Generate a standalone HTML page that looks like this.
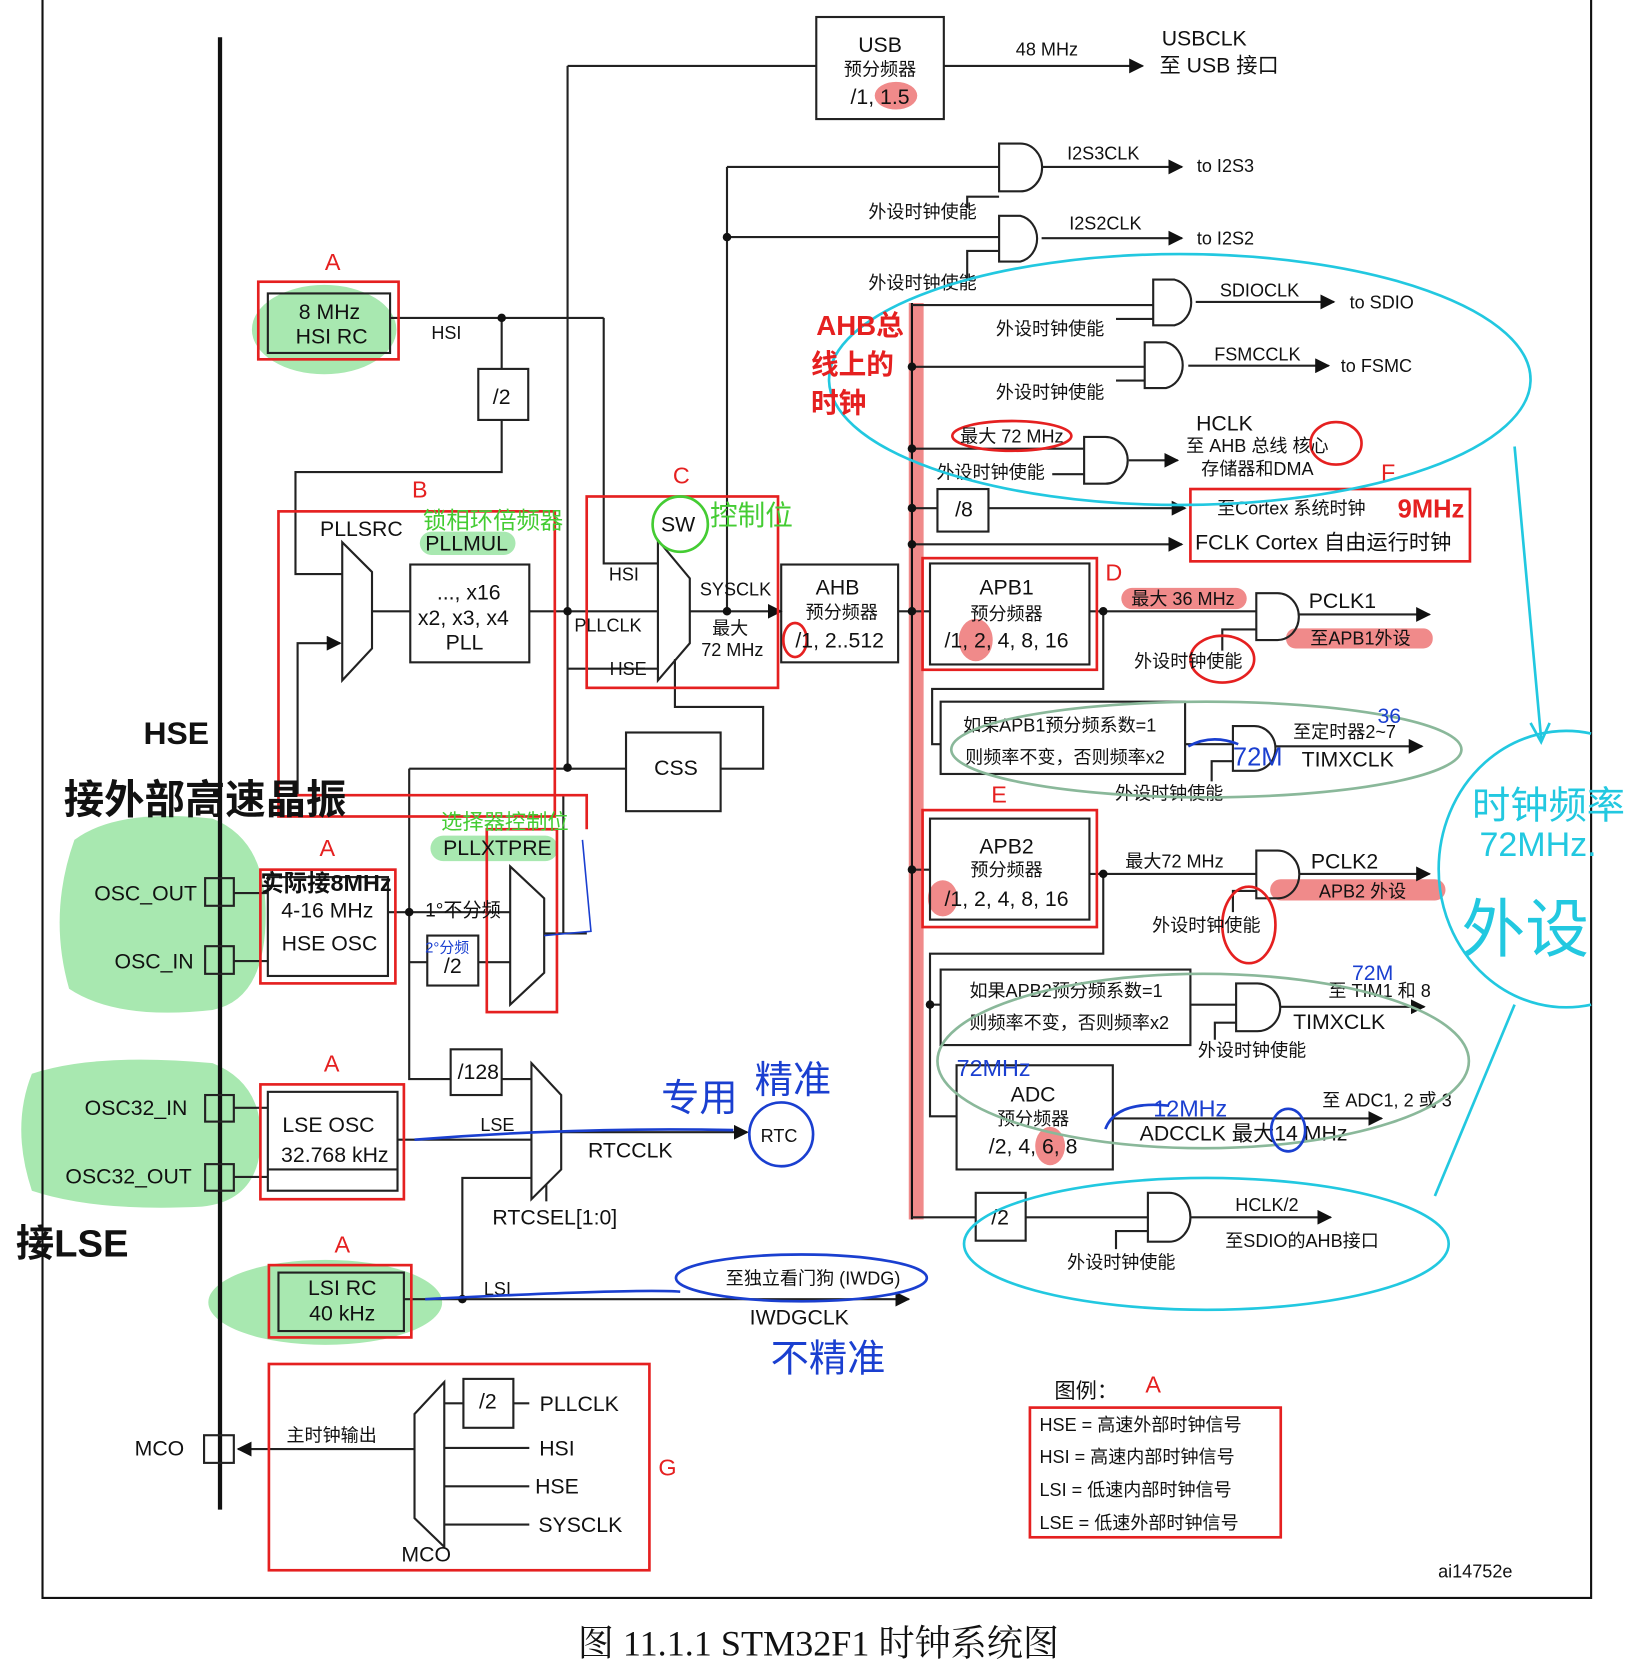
<!DOCTYPE html>
<html><head><meta charset="utf-8"><style>
html,body{margin:0;padding:0;background:#fff;}
svg{display:block;}
text{font-family:"Liberation Sans","Noto Sans CJK SC",sans-serif;}
.s{font-size:17px;}
.m{font-size:20px;}
.r text{font-size:22px;}
</style></head><body>
<svg width="1640" height="1667" viewBox="0 0 1543 1568" preserveAspectRatio="none" xmlns="http://www.w3.org/2000/svg" fill="#111">
<defs>
<marker id="ar" viewBox="0 0 10 10" refX="9" refY="5" markerWidth="7" markerHeight="7" orient="auto"><path d="M0,0 L10,5 L0,10 z" fill="#111"/></marker>
</defs>
<g fill="#a8e8b0">
<ellipse cx="305" cy="310" rx="68" ry="42"/>
<path d="M70,790 Q110,760 200,770 Q250,790 250,860 Q250,940 200,950 Q110,960 65,930 Q45,860 70,790 Z"/>
<path d="M30,1010 Q90,990 200,1000 Q250,1020 245,1080 Q240,1130 190,1135 Q90,1140 30,1120 Q10,1060 30,1010 Z"/>
<ellipse cx="306" cy="1225" rx="110" ry="40"/>
<rect x="395" y="500" width="90" height="22" rx="11"/>
<rect x="405" y="786" width="120" height="24" rx="12"/>
</g>
<g fill="#f08a8a">
<rect x="1055" y="553" width="118" height="20" rx="10"/>
<rect x="1210" y="591" width="138" height="19" rx="9"/>
<rect x="1195" y="827" width="165" height="20" rx="10"/>
<ellipse cx="843" cy="90" rx="20" ry="13"/>
<ellipse cx="918" cy="602" rx="16" ry="20"/>
<ellipse cx="887" cy="845" rx="14" ry="17"/>
<ellipse cx="988" cy="1078" rx="14" ry="18"/>
</g>
<g stroke="#111" fill="none" stroke-width="2">
<path d="M40,0 V1503 H1497 V0"/>
</g>
<line x1="207" y1="35" x2="207" y2="1420" stroke="#111" stroke-width="4"/>
<rect x="855" y="285" width="14" height="862" fill="#f08a8a"/>
<line x1="858" y1="285" x2="858" y2="1147" stroke="#111" stroke-width="2"/>
<g stroke="#222" stroke-width="2" fill="none">
<rect x="768" y="16" width="120" height="96" fill="none"/>
<path d="M534,62 H768"/><path d="M888,62 H1075" marker-end="url(#ar)"/>
<path d="M534,62 V723"/>
<path d="M684,157 V575"/><path d="M684,157 H940"/><path d="M684,223 H940"/>
<path d="M940,135 H960 A20,22 0 0 1 960,180 H940 Z"/>
<path d="M980,157 H1112" marker-end="url(#ar)"/>
<path d="M910,196 V185 H940"/><path d="M940,203 H960 A20,22 0 0 1 960,246 H940 Z"/>
<path d="M980,224 H1112" marker-end="url(#ar)"/><path d="M910,262 V236 H940"/>
<path d="M1085,263 H1105 A20,22 0 0 1 1105,306 H1085 Z"/>
<path d="M1125,284 H1255" marker-end="url(#ar)"/><path d="M858,287 H1085"/><path d="M1050,300 H1085"/>
<path d="M1077,322 H1097 A20,22 0 0 1 1097,365 H1077 Z"/>
<path d="M1118,344 H1250" marker-end="url(#ar)"/><path d="M858,345 H1077"/><path d="M1050,358 H1077"/>
<path d="M1020,411 H1040 A21,22 0 0 1 1040,455 H1020 Z"/>
<path d="M1062,433 H1108" marker-end="url(#ar)"/><path d="M858,422 H1020"/><path d="M990,446 H1020"/>
<rect x="882" y="460" width="48" height="40"/>
<path d="M858,478 H882"/><path d="M930,478 H1115" marker-end="url(#ar)"/>
<path d="M858,512 H1112" marker-end="url(#ar)"/>
<rect x="735" y="531" width="110" height="92"/>
<path d="M845,575 H858"/>
<path d="M619,508 L649,544 V605 L619,640 Z"/>
<path d="M649,575 H735" marker-end="url(#ar)"/>
<path d="M568,299 V530 H619"/><path d="M498,575 H619"/><path d="M534,629 H619"/>
<path d="M635,620 V665 H718 V723 H678"/>
<rect x="589" y="689" width="89" height="74"/>
<path d="M385,723 H589"/>
<rect x="252" y="276" width="115" height="56"/>
<path d="M367,299 H568"/><path d="M472,299 V347"/>
<rect x="450" y="347" width="47" height="48"/>
<path d="M472,395 V444 H278 V540 H322"/>
<path d="M322,510 L350,538 V610 L322,640 Z"/>
<path d="M350,575 H386"/>
<rect x="386" y="531" width="112" height="92"/>
<path d="M552,878 H530 V748 H280 V605 H320" marker-end="url(#ar)"/>
<rect x="252" y="825" width="113" height="93"/>
<rect x="193" y="826" width="27" height="26"/><rect x="193" y="890" width="27" height="26"/>
<path d="M220,840 H252"/><path d="M220,904 H252"/>
<path d="M365,858 H480"/><path d="M385,723 V1015 H424"/><path d="M385,905 H402"/><path d="M450,905 H480"/>
<rect x="402" y="880" width="48" height="47"/>
<path d="M480,815 L512,845 V915 L480,945 Z"/>
<path d="M512,878 H552"/>
<rect x="193" y="1030" width="27" height="25"/><rect x="193" y="1095" width="27" height="25"/>
<path d="M220,1042 H252"/><path d="M220,1107 H252"/>
<rect x="252" y="1027" width="122" height="93"/>
<path d="M252,1100 H374"/>
<rect x="424" y="987" width="48" height="43"/>
<path d="M472,1015 H500"/>
<path d="M500,1000 L528,1030 V1100 L500,1128 Z"/>
<path d="M374,1072 H500"/>
<path d="M528,1065 H703" marker-end="url(#ar)"/>
<path d="M514,1114 V1130"/>
<rect x="262" y="1197" width="118" height="55"/>
<path d="M380,1222 H855" marker-end="url(#ar)"/>
<path d="M435,1222 V1108 H500"/>
<path d="M390,1330 L418,1300 V1455 L390,1428 Z"/>
<path d="M390,1363 H224" marker-end="url(#ar)"/>
<rect x="192" y="1350" width="28" height="26"/>
<rect x="436" y="1297" width="47" height="46"/>
<path d="M418,1320 H436"/><path d="M483,1320 H498"/>
<path d="M418,1362 H498"/><path d="M418,1398 H498"/><path d="M418,1434 H498"/>
<rect x="875" y="530" width="150" height="95"/>
<path d="M858,575 H875"/>
<path d="M1025,575 H1182"/>
<path d="M1182,558 H1202 A20,22 0 0 1 1202,602 H1182 Z"/>
<path d="M1222,578 H1345" marker-end="url(#ar)"/><path d="M1150,612 V592 H1182"/>
<path d="M1038,575 V648 H877 V700 H885"/>
<rect x="885" y="660" width="230" height="68"/>
<path d="M1115,700 H1160"/>
<path d="M1160,683 H1180 A20,21 0 0 1 1180,725 H1160 Z"/>
<path d="M1200,702 H1338" marker-end="url(#ar)"/><path d="M1140,735 V716 H1160"/>
<rect x="875" y="770" width="150" height="95"/>
<path d="M858,818 H875"/>
<path d="M1025,822 H1182"/>
<path d="M1182,800 H1202 A20,22 0 0 1 1202,845 H1182 Z"/>
<path d="M1222,822 H1345" marker-end="url(#ar)"/><path d="M1160,858 V838 H1182"/>
<path d="M1038,822 V897 H875 V1050 H900"/>
<path d="M875,945 H885"/>
<rect x="885" y="912" width="235" height="71"/>
<path d="M1120,945 H1163"/>
<path d="M1163,925 H1183 A21,22 0 0 1 1183,970 H1163 Z"/>
<path d="M1204,947 H1340" marker-end="url(#ar)"/><path d="M1143,978 V962 H1163"/>
<rect x="900" y="1002" width="147" height="98"/>
<path d="M1047,1052 H1300" marker-end="url(#ar)"/>
<rect x="918" y="1122" width="47" height="45"/>
<path d="M858,1145 H918"/><path d="M965,1145 H1080"/>
<path d="M1080,1122 H1100 A20,23 0 0 1 1100,1168 H1080 Z"/>
<path d="M1120,1145 H1252" marker-end="url(#ar)"/><path d="M1050,1175 V1158 H1080"/>
</g>
<g fill="#111">
<circle cx="472" cy="299" r="4"/><circle cx="534" cy="575" r="4"/><circle cx="534" cy="722" r="4"/>
<circle cx="684" cy="575" r="4"/><circle cx="684" cy="223" r="4"/><circle cx="385" cy="858" r="4"/>
<circle cx="435" cy="1222" r="4"/><circle cx="858" cy="575" r="4"/><circle cx="858" cy="818" r="4"/>
<circle cx="858" cy="422" r="4"/><circle cx="858" cy="478" r="4"/><circle cx="858" cy="512" r="4"/><circle cx="858" cy="345" r="4"/>
<circle cx="1038" cy="575" r="4"/><circle cx="1038" cy="822" r="4"/><circle cx="875" cy="945" r="4"/>
</g>
<g stroke="#e52020" stroke-width="2.5" fill="none">
<rect x="243" y="265" width="132" height="73"/>
<rect x="262" y="481" width="260" height="287"/>
<rect x="552" y="467" width="180" height="180"/>
<rect x="1120" y="460" width="263" height="68"/>
<rect x="868" y="525" width="164" height="105"/>
<rect x="868" y="762" width="164" height="110"/>
<rect x="245" y="818" width="127" height="107"/>
<rect x="458" y="780" width="66" height="172"/>
<path d="M262,748 H552 V780"/>
<rect x="245" y="1020" width="135" height="108"/>
<rect x="253" y="1190" width="134" height="68"/>
<rect x="253" y="1283" width="358" height="194"/>
<rect x="969" y="1324" width="236" height="122"/>
<ellipse cx="748" cy="602" rx="11" ry="16"/>
<ellipse cx="952" cy="410" rx="56" ry="14"/>
<ellipse cx="1257" cy="417" rx="24" ry="20"/>
<ellipse cx="1150" cy="620" rx="30" ry="22"/>
<ellipse cx="1175" cy="870" rx="25" ry="36"/>
</g>
<g text-anchor="middle">
<text x="828" y="49" class="m">USB</text><text x="828" y="71" class="s">预分频器</text><text x="828" y="98" class="m">/1, 1.5</text>
<text x="985" y="52" class="s" font-size="18">48 MHz</text>
<text x="1133" y="43" class="m">USBCLK</text><text x="1147" y="68" class="m" font-size="19">至 USB 接口</text>
<text x="1038" y="150" class="s" font-size="18">I2S3CLK</text><text x="1153" y="162" class="s" font-size="18">to I2S3</text>
<text x="868" y="205" class="s">外设时钟使能</text>
<text x="1040" y="216" class="s" font-size="18">I2S2CLK</text><text x="1153" y="230" class="s" font-size="18">to I2S2</text>
<text x="868" y="272" class="s">外设时钟使能</text>
<text x="1185" y="279" class="s" font-size="19">SDIOCLK</text><text x="1300" y="290" class="s" font-size="19">to SDIO</text>
<text x="988" y="315" class="s">外设时钟使能</text>
<text x="1183" y="339" class="s" font-size="19">FSMCCLK</text><text x="1295" y="350" class="s" font-size="19">to FSMC</text>
<text x="988" y="375" class="s">外设时钟使能</text>
<text x="952" y="416" class="s">最大 72 MHz</text><text x="932" y="450" class="s">外设时钟使能</text>
<text x="1152" y="405" class="m">HCLK</text><text x="1183" y="425" class="s" font-size="18">至 AHB 总线 核心</text><text x="1183" y="447" class="s" font-size="18">存储器和DMA</text>
<text x="907" y="486" class="m">/8</text>
<text x="1215" y="484" class="s" font-size="19">至Cortex 系统时钟</text>
<text x="1245" y="517" class="m">FCLK Cortex 自由运行时钟</text>
<text x="788" y="559" class="m">AHB</text><text x="792" y="582" class="s">预分频器</text><text x="790" y="609" class="m">/1, 2..512</text>
<text x="587" y="546" class="s" font-size="18">HSI</text><text x="572" y="594" class="s" font-size="18">PLLCLK</text><text x="591" y="635" class="s" font-size="18">HSE</text>
<text x="638" y="500" class="m">SW</text>
<text x="692" y="560" class="s" font-size="18">SYSCLK</text><text x="687" y="597" class="s">最大</text><text x="689" y="617" class="s" font-size="18">72 MHz</text>
<text x="441" y="564" class="m">..., x16</text><text x="436" y="588" class="m">x2, x3, x4</text><text x="437" y="611" class="m">PLL</text>
<text x="439" y="518" class="m">PLLMUL</text><text x="340" y="504" class="m">PLLSRC</text>
<text x="636" y="729" class="m">CSS</text>
<text x="310" y="300" class="m">8 MHz</text><text x="312" y="323" class="m">HSI RC</text>
<text x="420" y="319" class="s" font-size="19">HSI</text>
<text x="472" y="380" class="m">/2</text>
<text x="947" y="559" class="m">APB1</text><text x="947" y="583" class="s">预分频器</text><text x="947" y="609" class="m">/1, 2, 4, 8, 16</text>
<text x="1113" y="569" class="s">最大 36 MHz</text>
<text x="1263" y="572" class="m">PCLK1</text><text x="1280" y="606" class="s" font-size="18">至APB1外设</text>
<text x="1118" y="628" class="s">外设时钟使能</text>
<text x="997" y="688" class="s">如果APB1预分频系数=1</text><text x="1002" y="718" class="s">则频率不变，否则频率x2</text>
<text x="1265" y="694" class="s" font-size="18">至定时器2~7</text><text x="1268" y="721" class="m">TIMXCLK</text>
<text x="1100" y="752" class="s">外设时钟使能</text>
<text x="947" y="803" class="m">APB2</text><text x="947" y="824" class="s">预分频器</text><text x="947" y="852" class="m">/1, 2, 4, 8, 16</text>
<text x="1105" y="816" class="s" font-size="17">最大72 MHz</text>
<text x="1265" y="817" class="m">PCLK2</text><text x="1282" y="844" class="s" font-size="18">APB2 外设</text>
<text x="1135" y="876" class="s">外设时钟使能</text>
<text x="1003" y="938" class="s">如果APB2预分频系数=1</text><text x="1006" y="968" class="s">则频率不变，否则频率x2</text>
<text x="1298" y="938" class="s" font-size="18">至 TIM1 和 8</text><text x="1260" y="968" class="m">TIMXCLK</text>
<text x="1178" y="994" class="s">外设时钟使能</text>
<text x="972" y="1036" class="m">ADC</text><text x="972" y="1058" class="s">预分频器</text><text x="972" y="1085" class="m">/2, 4, 6, 8</text>
<text x="1305" y="1041" class="s" font-size="17">至 ADC1, 2 或 3</text>
<text x="1170" y="1073" class="m">ADCCLK 最大14 MHz</text>
<text x="941" y="1152" class="m">/2</text>
<text x="1192" y="1139" class="s" font-size="18">HCLK/2</text><text x="1225" y="1173" class="s">至SDIO的AHB接口</text>
<text x="1055" y="1193" class="s">外设时钟使能</text>
<text x="468" y="804" class="m">PLLXTPRE</text>
<text x="308" y="863" class="m">4-16 MHz</text><text x="310" y="894" class="m">HSE OSC</text>
<text x="426" y="915" class="m">/2</text>
<text x="137" y="847" class="m">OSC_OUT</text><text x="145" y="911" class="m">OSC_IN</text>
<text x="128" y="1049" class="m">OSC32_IN</text><text x="121" y="1113" class="m">OSC32_OUT</text>
<text x="309" y="1065" class="m">LSE OSC</text><text x="315" y="1093" class="m">32.768 kHz</text>
<text x="450" y="1015" class="m">/128</text>
<text x="468" y="1064" class="s" font-size="18">LSE</text><text x="593" y="1089" class="m">RTCCLK</text>
<text x="733" y="1074" class="s" font-size="18">RTC</text><text x="522" y="1152" class="m">RTCSEL[1:0]</text>
<text x="322" y="1218" class="m">LSI RC</text><text x="322" y="1242" class="m">40 kHz</text>
<text x="468" y="1218" class="s" font-size="18">LSI</text>
<text x="765" y="1208" class="s" font-size="18">至独立看门狗 (IWDG)</text>
<text x="752" y="1246" class="m">IWDGCLK</text>
<text x="312" y="1356" class="s">主时钟输出</text>
<text x="150" y="1369" class="m">MCO</text>
<text x="459" y="1325" class="m">/2</text>
<text x="545" y="1327" class="m">PLLCLK</text><text x="524" y="1369" class="m">HSI</text><text x="524" y="1405" class="m">HSE</text><text x="546" y="1441" class="m">SYSCLK</text>
<text x="401" y="1469" class="m">MCO</text>
<text x="1022" y="1315" class="m">图例：</text>
<text x="1388" y="1484" class="s" font-size="18">ai14752e</text>
<text x="770" y="1557" style="font-family:'Liberation Serif','Noto Serif CJK SC',serif;font-size:34px">图 11.1.1 STM32F1 时钟系统图</text>
</g>
<g class="s" font-size="18">
<text x="978" y="1346">HSE =   高速外部时钟信号</text>
<text x="978" y="1376">HSI  =   高速内部时钟信号</text>
<text x="978" y="1407">LSI   =   低速内部时钟信号</text>
<text x="978" y="1438">LSE  =   低速外部时钟信号</text>
</g>
<g class="r" text-anchor="middle" fill="#e52020">
<text x="313" y="254">A</text><text x="395" y="468">B</text><text x="641" y="455">C</text><text x="1048" y="546">D</text>
<text x="1306" y="452">F</text><text x="940" y="755">E</text><text x="308" y="805">A</text><text x="312" y="1008">A</text>
<text x="322" y="1178">A</text><text x="628" y="1388">G</text><text x="1085" y="1310">A</text>
</g>
<g fill="none" stroke-width="2.5">
<ellipse cx="1110" cy="357" rx="330" ry="118" stroke="#22c8e0"/>
<path d="M1497,690 A120,130 0 1 0 1497,945" stroke="#22c8e0"/>
<ellipse cx="1135" cy="1170" rx="228" ry="62" stroke="#22c8e0"/>
<path d="M1425,420 L1450,695 M1440,680 L1450,698 L1458,680" stroke="#22c8e0"/>
<path d="M1425,945 L1350,1125" stroke="#22c8e0"/>
<ellipse cx="1135" cy="705" rx="240" ry="45" stroke="#8ab89a"/>
<ellipse cx="1132" cy="998" rx="250" ry="82" stroke="#8ab89a"/>
<ellipse cx="754" cy="1202" rx="118" ry="22" stroke="#1a3fd0"/>
<circle cx="735" cy="1067" r="30" stroke="#1a3fd0"/>
<circle cx="640" cy="493" r="26" stroke="#44cc33"/>
<path d="M390,1072 Q540,1060 690,1063" stroke="#1a3fd0"/>
<path d="M400,1222 Q600,1212 640,1215" stroke="#1a3fd0"/>
<path d="M1040,1062 Q1050,1035 1100,1040" stroke="#1a3fd0"/>
<path d="M1118,702 Q1140,690 1165,700" stroke="#1a3fd0"/>
<ellipse cx="1212" cy="1063" rx="16" ry="20" stroke="#1a3fd0"/>
<path d="M548,790 L556,876 L512,880" stroke="#1a3fd0" stroke-width="1.5"/>
</g>
<g font-family="'Noto Sans CJK SC',sans-serif" font-weight="bold">
<text x="768" y="315" fill="#e52020" font-size="26">AHB总</text>
<text x="763" y="352" fill="#e52020" font-size="26">线上的</text>
<text x="763" y="388" fill="#e52020" font-size="26">时钟</text>
<text x="1315" y="487" fill="#e52020" font-size="24">9MHz</text>
<text x="135" y="700" fill="#111" font-size="30">HSE</text>
<text x="60" y="765" fill="#111" font-size="38">接外部高速晶振</text>
<text x="15" y="1182" fill="#111" font-size="36">接LSE</text>
<text x="245" y="838" fill="#111" font-size="22">实际接8MHz</text>
<text x="400" y="862" fill="#111" font-size="18" font-weight="normal">1°不分频</text>
<text x="400" y="896" fill="#1a3fd0" font-size="14" font-weight="normal">2°分频</text>
<text x="398" y="497" fill="#44cc33" font-size="22" font-weight="normal">锁相环倍频器</text>
<text x="668" y="494" fill="#44cc33" font-size="26" font-weight="normal">控制位</text>
<text x="415" y="780" fill="#44cc33" font-size="20" font-weight="normal">选择器控制位</text>
<text x="622" y="1045" fill="#1a3fd0" font-size="36" font-weight="normal">专用</text>
<text x="710" y="1028" fill="#1a3fd0" font-size="36" font-weight="normal">精准</text>
<text x="725" y="1290" fill="#1a3fd0" font-size="36" font-weight="normal">不精准</text>
<text x="1160" y="720" fill="#1a3fd0" font-size="24" font-weight="normal">72M</text>
<text x="1296" y="680" fill="#1a3fd0" font-size="20" font-weight="normal">36</text>
<text x="1272" y="922" fill="#1a3fd0" font-size="20" font-weight="normal">72M</text>
<text x="900" y="1012" fill="#1a3fd0" font-size="22" font-weight="normal">72MHz</text>
<text x="1085" y="1050" fill="#1a3fd0" font-size="22" font-weight="normal">12MHz</text>
<text x="1385" y="770" fill="#22c8e0" font-size="36" font-weight="normal">时钟频率</text>
<text x="1392" y="805" fill="#22c8e0" font-size="32" font-weight="normal">72MHz.</text>
<text x="1375" y="895" fill="#22c8e0" font-size="60" font-weight="normal">外设</text>
</g>
</svg>
</body></html>
